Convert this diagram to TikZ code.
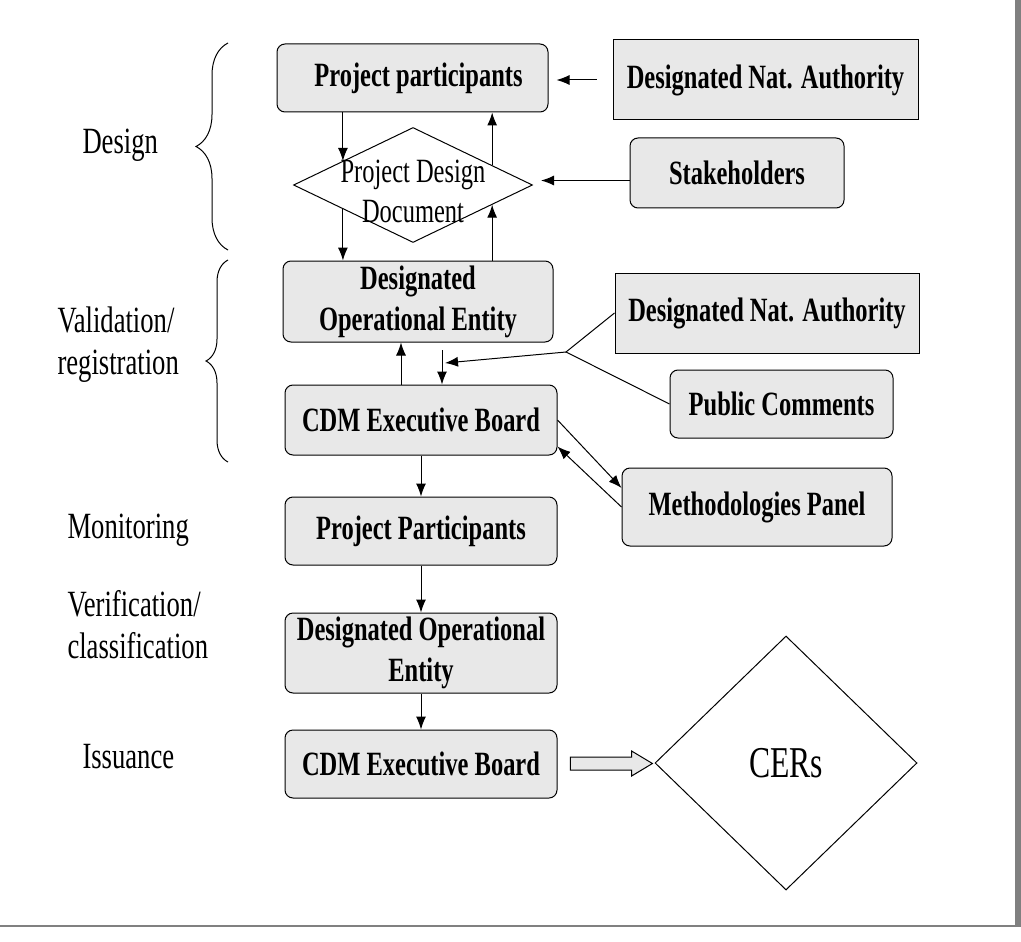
\documentclass[tikz,border=0pt]{standalone}
\usepackage{fontspec}
\setmainfont{Liberation Serif}[FakeStretch=0.72]
\usepackage{tikz}
\usetikzlibrary{shapes.geometric,shapes.arrows,arrows.meta,decorations.pathreplacing,calc}
\tikzstyle{arr} = [line width=0.5pt,->,>={Latex[length=6.5pt,width=5pt]}]
\tikzset{
 box/.style
  = {rectangle, draw, fill=black!9, rounded corners=4pt, align=center,
     inner sep=2pt, font=\fontsize{17}{20.5}\selectfont\bfseries},
 sqbox/.style
  = {box, sharp corners},
 dia/.style
  = {diamond, draw, inner sep=0pt},
 side/.style
  = {anchor=west, align=left, inner sep=0pt, font=\fontsize{18.5}{21}\selectfont},
 brc/.style
  = {decorate, decoration={brace, amplitude=16pt}},
 fat/.style
  = {single arrow, draw, fill=black!9, inner sep=3pt, minimum height=41pt,
     single arrow head extend=3pt, single arrow tip angle=62},
}

\begin{document}
\begin{tikzpicture}[x=0.5pt, y=-0.5pt, line width=0.5pt]
\useasboundingbox (0,0) rectangle (1021,941);

% Frame
\fill[gray] (1015,0) rectangle (1021,927);
\draw[gray, line width=1.2pt] (0,926) -- (1015,926);

% Phase labels
\node[side] (lbd) at (82,145) {Design};
\node[side] (lbv) at (57,345) {Validation/\\registration};
\node[side] (lbm) at (67,530) {Monitoring};
\node[side] (lbve) at (67,625) {Verification/\\classification};
\node[side] (lbi) at (82,757) {Issuance};

% Braces
\draw[brc] (228,250) -- (228,43);
\draw[decorate, decoration={brace, amplitude=11pt}] (228,462) -- (228,260);

% Design
\node[box, minimum width=135.5pt, minimum height=34pt] (pp1) at (412.5,78) {\hspace{6pt}Project participants};
\node[sqbox, minimum width=152.5pt, minimum height=40pt] (dna1) at (765.5,80) {Designated Nat. Authority};
\node[dia, minimum width=119.5pt, minimum height=57.5pt,
      label={[align=center, font=\fontsize{17}{20}\selectfont, yshift=-3pt]center:Project Design\\Document}] (pdd) at (413,185) {};
\node[box, minimum width=107pt, minimum height=35pt] (stk) at (737,173) {Stakeholders};

% Validation / registration
\node[box, minimum width=135pt, minimum height=40.5pt] (doe1) at (418,301.5) {Designated\\Operational Entity};
\node[sqbox, minimum width=152pt, minimum height=40pt] (dna2) at (767,313) {Designated Nat. Authority};
\node[box, minimum width=111.5pt, minimum height=34pt] (pc) at (781.5,404) {Public Comments};
\node[box, minimum width=136pt, minimum height=35pt] (eb1) at (421,420) {CDM Executive Board};
\node[box, minimum width=135pt, minimum height=39pt] (mp) at (757,507) {Methodologies Panel};

% Monitoring, verification, issuance
\node[box, minimum width=136pt, minimum height=34pt] (pp2) at (421,531) {Project Participants};
\node[box, minimum width=136pt, minimum height=40pt] (doe2) at (421,653) {Designated Operational\\Entity};
\node[box, minimum width=136pt, minimum height=34pt] (eb2) at (421,764) {CDM Executive Board};
\node[dia, minimum width=131pt, minimum height=127pt, font=\fontsize{22}{26}\selectfont] (cers) at (786,763) {CERs};

% Design arrows
\draw[arr, shorten <=8pt, shorten >=4pt] (dna1.west) -- (dna1.west -| pp1.east);
\draw[arr] (pp1.south -| pdd.161) -- (pdd.161);
\draw[arr] (pdd.14) -- (pdd.14 |- pp1.south);
\draw[arr, shorten >=4pt] (stk.184) -- (stk.184 -| pdd.east);
\draw[arr] (pdd.199) -- (pdd.199 |- doe1.north);
\draw[arr] (doe1.north -| pdd.346) -- (pdd.346);

% Validation arrows
\coordinate (fork) at (566,352);
\coordinate (drop) at (442,350);
\coordinate (hit) at (445,363);
\draw[arr] ([xshift=-10pt]eb1.north) -- ([xshift=-10pt]eb1.north |- doe1.south);
\draw (dna2.west) -- (fork) -- (pc.west);
\draw[arr] (fork) -- (hit);
\draw[arr] (drop) -- (drop |- eb1.north);
\draw[arr] (eb1.east) -- (mp.172);
\draw[arr] (mp.west) -- (eb1.349);

% Lower chain
\draw[arr] (eb1.south) -- (pp2.north);
\draw[arr] (pp2.south) -- (doe2.north);
\draw[arr] (doe2.south) -- (eb2.north);
\node[fat] (out) at ($(eb2.east)!0.5!(cers.west)$) {};

\end{tikzpicture}
\end{document}
